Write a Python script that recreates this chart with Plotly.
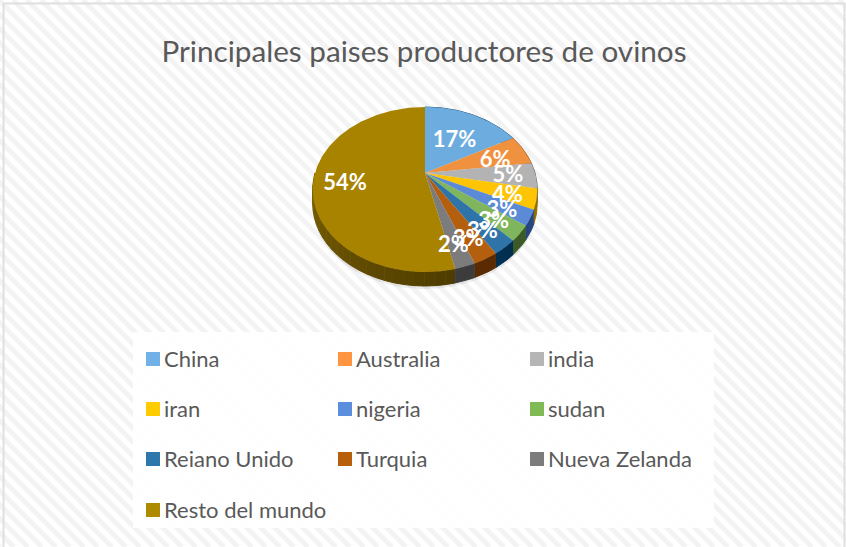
import numpy as np
import plotly.graph_objects as go

categories = ["China", "Australia", "india", "iran", "nigeria", "sudan",
              "Reiano Unido", "Turquia", "Nueva Zelanda", "Resto del mundo"]
percent = [17, 6, 5, 4, 3, 3, 3, 3, 2.45, 53.55]
title_text = "Principales paises productores de ovinos"

top_colors = ["#6DACDE", "#F0913F", "#B3B3B3", "#FFC404", "#5B8AD6",
              "#7FB55C", "#2E74A8", "#B35F0D", "#7C7C7C", "#A88300"]
side_colors = ["#2F5D85", "#8F4F18", "#6A6A6A", "#8F6C00", "#27457F",
               "#3B5A28", "#022E50", "#5A2A02", "#3C3C3C", "#4F3D00"]
legend_colors = ["#70B2E8", "#FF9540", "#B5B5B5", "#FFCC00", "#5B8EDC",
                 "#7FBA55", "#2E77AD", "#B85F0B", "#7C7C7C", "#AE8A00"]
label_radius = [0.58, 0.70, 0.75, 0.75, 0.75, 0.75, 0.75, 0.75, 0.75, 0.72]
label_shift = [4, 5, 2, 4, 6, 6, 6, 6, 7, 5]

W, H = 846, 547
CX, CY = 425, 173      # where the slices meet
RX, RY, P = 110, 79.2, 0.2   # radii and perspective of the tilted disc
DEPTH = 14


def project(frac, r=1.0):
    """Turn-fraction clockwise from 12 o'clock and radius -> page pixels."""
    a = 2 * np.pi * np.asarray(frac, dtype=float)
    u, v = r * np.sin(a), r * np.cos(a)
    w = 1 + P * v
    return CX + RX * u / w, CY - RY * v / w


def wall(a, b, col, n):
    t = np.linspace(a, b, n)
    x, y = project(t)
    fig.add_trace(go.Scatter(x=np.r_[x, x[::-1]], y=np.r_[y, y[::-1] + DEPTH],
                             mode="lines", fill="toself", fillcolor=col,
                             line=dict(width=1, color=col), hoverinfo="skip", showlegend=False))


fig = go.Figure()

edges = np.concatenate([[0], np.cumsum(percent)]) / sum(percent)

# soft shadow beneath the disc
sx, sy = project(np.linspace(0, 1, 181))
fig.add_trace(go.Scatter(x=sx, y=sy + DEPTH + 3, mode="lines", fill="toself",
                         fillcolor="rgba(0,0,0,0.07)", line=dict(width=0),
                         hoverinfo="skip", showlegend=False))

# side walls; the large slice gets lighter toward the far left
steps = np.linspace(edges[-2], 0.75, 25)
for i, (a, b) in enumerate(zip(steps[:-1], steps[1:])):
    k = i / 23
    wall(a, b, f"rgb({int(79 + 45 * k)},{int(61 + 36 * k)},0)", 4)
for a, b, col in zip(edges[:-2], edges[1:-1], side_colors[:-1]):
    wall(a, b, col, max(3, int((b - a) * 360)))

# top faces
for name, pct, a, b, col in zip(categories, percent, edges[:-1], edges[1:], top_colors):
    t = np.linspace(a, b, max(3, int((b - a) * 360)))
    x, y = project(t)
    fig.add_trace(go.Scatter(x=np.r_[CX, x, CX], y=np.r_[CY, y, CY], mode="lines",
                             fill="toself", fillcolor=col, line=dict(width=0),
                             name=name, text=f"{name}: {pct:.0f}%", hoverinfo="text",
                             showlegend=False))

# data labels
mid = (edges[:-1] + edges[1:]) / 2
lx, ly = zip(*[project(m, r) for m, r in zip(mid, label_radius)])
ly = [y + s for y, s in zip(ly, label_shift)]
fig.add_trace(go.Scatter(x=lx, y=ly, mode="text", text=[f"{p:.0f}%" for p in percent],
                         textposition="middle center", hoverinfo="skip", showlegend=False,
                         textfont=dict(family="Lato, sans-serif", size=22, color="white", weight="bold")))

# legend as a 3-column grid
cols = [153, 345, 537]
rows = [359, 409, 459, 510]
gx = [cols[i % 3] for i in range(len(categories))]
gy = [rows[i // 3] for i in range(len(categories))]
fig.add_trace(go.Scatter(x=gx, y=gy, mode="markers", hoverinfo="skip", showlegend=False,
                         marker=dict(symbol="square", size=14, color=legend_colors,
                                     line=dict(width=0))))
fig.add_trace(go.Scatter(x=[g + 11 for g in gx], y=[r + 2 for r in gy], mode="text", text=categories,
                         textposition="middle right", hoverinfo="skip", showlegend=False,
                         textfont=dict(family="Lato, sans-serif", size=22, color="#595959")))

# diagonal hatch of the chart background
hatch = " ".join(f"M{o},0 L{o + H},{H}" for o in range(-H, W + 14, 14))

fig.update_layout(
    width=W, height=H, margin=dict(l=0, r=0, t=0, b=0), autosize=False,
    paper_bgcolor="white", plot_bgcolor="rgba(0,0,0,0)", showlegend=False,
    xaxis=dict(range=[0, W], visible=False, fixedrange=True),
    yaxis=dict(range=[H, 0], visible=False, fixedrange=True),
    title=dict(text=title_text, x=424 / W, xanchor="center", y=1 - 52 / H, yanchor="middle",
               font=dict(family="Lato, sans-serif", size=29.7, color="#595959")),
    shapes=[
        dict(type="path", path=hatch, layer="below", xref="x", yref="y",
             line=dict(color="#F3F3F3", width=5)),
        dict(type="rect", x0=133, x1=714, y0=332, y1=528, layer="below",
             fillcolor="rgba(255,255,255,0.85)", line=dict(width=0)),
        dict(type="rect", x0=3.5, x1=844.5, y0=3.5, y1=549, layer="below",
             line=dict(color="#E0E0E0", width=2)),
    ],
)

fig.write_html("out.html", config={"displayModeBar": False},
               post_script="document.body.style.margin='0';")
